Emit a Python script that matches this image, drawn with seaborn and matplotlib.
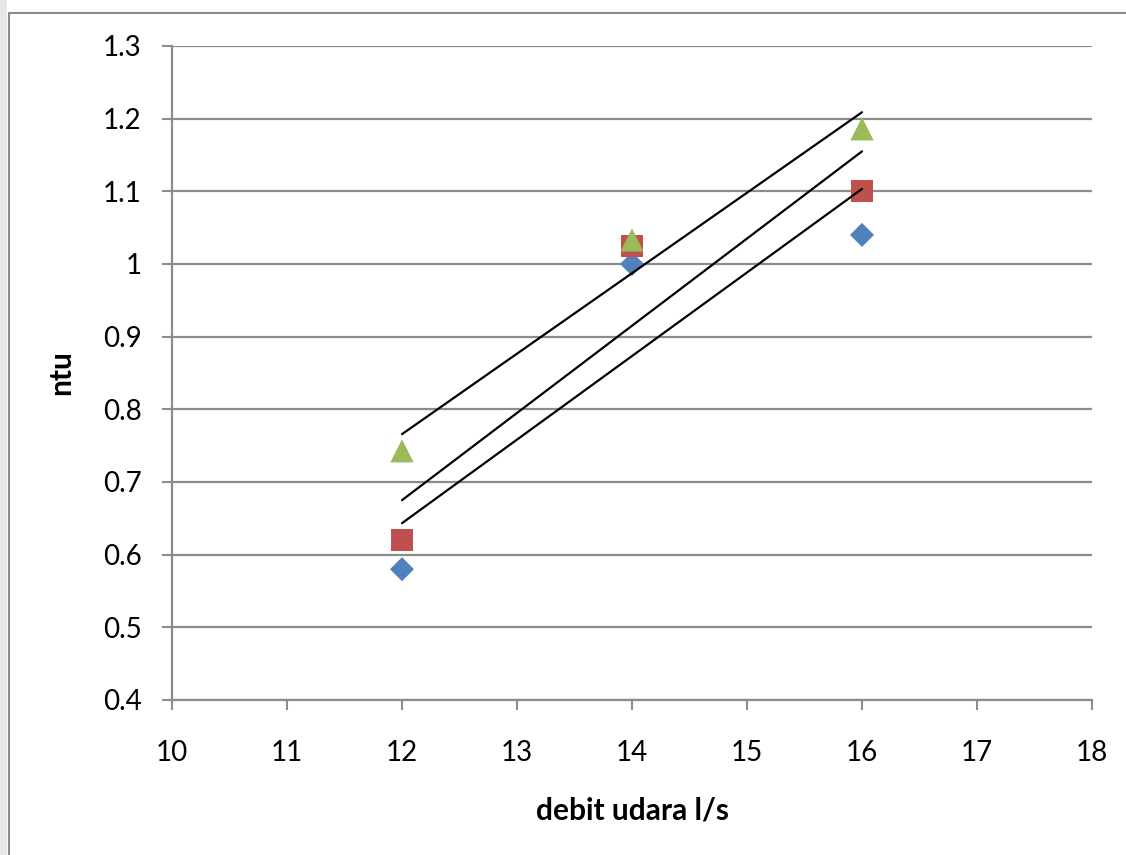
import numpy as np
import pandas as pd
import matplotlib
matplotlib.use("Agg")
import matplotlib.pyplot as plt
import seaborn as sns
from matplotlib.patches import Rectangle

debit = [12, 14, 16]
series1 = [0.58, 1.00, 1.04]
series2 = [0.62, 1.025, 1.10]
series3 = [0.743, 1.033, 1.186]
x_ticks = [10, 11, 12, 13, 14, 15, 16, 17, 18]
y_ticks = [0.4, 0.5, 0.6, 0.7, 0.8, 0.9, 1.0, 1.1, 1.2, 1.3]
y_tick_labels = ["0.4", "0.5", "0.6", "0.7", "0.8", "0.9", "1", "1.1", "1.2", "1.3"]

sns.set_style("white")
plt.rcParams['font.family'] = ['Lato', 'DejaVu Sans']
plt.rcParams['text.color'] = 'black'
plt.rcParams['axes.labelcolor'] = 'black'

fig = plt.figure(figsize=(11.26, 8.55), dpi=100)
ax = fig.add_axes([172/1126, 1 - 700/855, (1092-172)/1126, (700-46)/855])

# chart frame
fig.patches.append(Rectangle((9/1126, -0.01), 1.02, 1 - 13/855 + 0.01,
                             transform=fig.transFigure, fill=False,
                             edgecolor="#8c8c8c", linewidth=1.5))
fig.patches.append(Rectangle((0, 0), 7/1126, 1, transform=fig.transFigure,
                             facecolor="#e6e6e6", edgecolor="none"))

for yv in y_ticks:
    ax.axhline(yv, color="#8c8c8c", linewidth=1.6, zorder=0)

df = pd.DataFrame({"x": debit, "s1": series1, "s2": series2, "s3": series3})

for col, color, marker, size in [("s1", "#4F81BD", "D", 150),
                                 ("s2", "#C0504D", "s", 250),
                                 ("s3", "#9BBB59", "^", 280)]:
    sns.scatterplot(data=df, x="x", y=col, ax=ax, color=color, marker=marker,
                    s=size, edgecolor="none", zorder=3)

for col in ["s1", "s2", "s3"]:
    sns.regplot(data=df, x="x", y=col, ax=ax, scatter=False, ci=None,
                color="black", line_kws={"linewidth": 1.6, "zorder": 4},
                truncate=True)

ax.set_xlim(10, 18)
ax.set_ylim(0.4, 1.3)
ax.set_xticks(x_ticks)
ax.set_xticklabels([str(v) for v in x_ticks])
ax.set_yticks(y_ticks)
ax.set_yticklabels(y_tick_labels)
ax.tick_params(axis="both", labelsize=20, colors="#8c8c8c", labelcolor="black",
               length=7, width=1.5, direction="out", bottom=True, left=True)
ax.tick_params(axis="x", pad=22)
ax.tick_params(axis="y", pad=15)
for side in ["top", "right"]:
    ax.spines[side].set_visible(False)
for side in ["left", "bottom"]:
    ax.spines[side].set_color("#8c8c8c")
    ax.spines[side].set_linewidth(1.6)

ax.set_xlabel("debit udara l/s", fontsize=21.5, fontweight="bold", labelpad=22, color="black")
ax.set_ylabel("ntu", fontsize=21.5, fontweight="bold", labelpad=20, color="black")

fig.savefig("out.png", dpi=100)
